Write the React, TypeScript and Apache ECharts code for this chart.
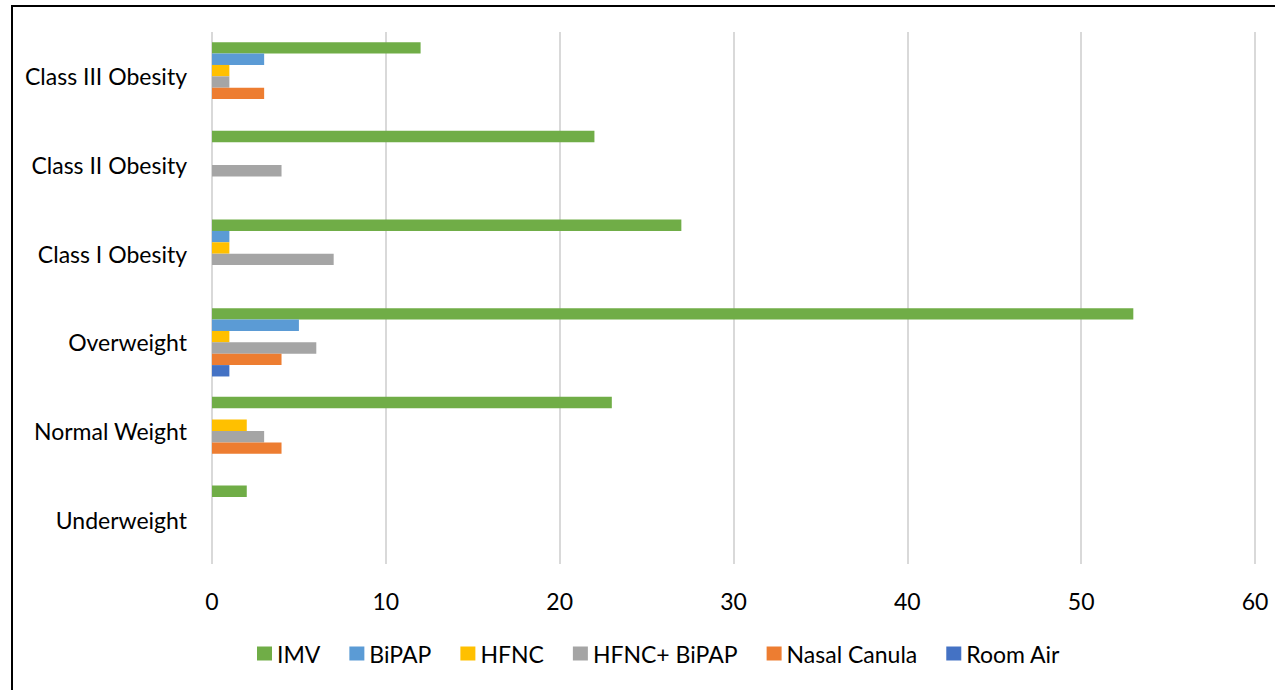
import React, { useEffect, useRef } from "react";
import * as echarts from "echarts";

// BMI categories, listed bottom to top
const categories = [
  "Underweight",
  "Normal Weight",
  "Overweight",
  "Class I Obesity",
  "Class II Obesity",
  "Class III Obesity",
];

const seriesNames = ["IMV", "BiPAP", "HFNC", "HFNC+ BiPAP", "Nasal Canula", "Room Air"];
const seriesColors = ["#70AD47", "#5B9BD5", "#FFC000", "#A5A5A5", "#ED7D31", "#4472C4"];

const imv = [2, 23, 53, 27, 22, 12];
const bipap = [0, 0, 5, 1, 0, 3];
const hfnc = [0, 2, 1, 1, 0, 1];
const hfncBipap = [0, 3, 6, 7, 4, 1];
const nasalCanula = [0, 4, 4, 0, 0, 3];
const roomAir = [0, 0, 1, 0, 0, 0];

const seriesValues = [imv, bipap, hfnc, hfncBipap, nasalCanula, roomAir];

const xTicks = [0, 10, 20, 30, 40, 50, 60];

const FONT = "Lato, 'Liberation Sans', sans-serif";

export default function App() {
  const ref = useRef<HTMLDivElement>(null);

  useEffect(() => {
    if (!ref.current) return;
    const chart = echarts.init(ref.current, null, { renderer: "svg" });
    chart.setOption({
      animation: false,
      backgroundColor: "#ffffff",
      textStyle: { fontFamily: FONT },
      grid: { left: 212, right: 20, top: 32, bottom: 126, containLabel: false },
      xAxis: {
        type: "value",
        min: xTicks[0],
        max: xTicks[xTicks.length - 1],
        interval: 10,
        axisLine: { show: false },
        axisTick: { show: false },
        axisLabel: { color: "#000", fontSize: 23, fontFamily: FONT, margin: 25 },
        splitLine: { show: true, lineStyle: { color: "#D9D9D9", width: 2 } },
      },
      yAxis: {
        type: "category",
        data: categories,
        axisLine: { show: false },
        axisTick: { show: false },
        axisLabel: { color: "#000", fontSize: 23, fontFamily: FONT, margin: 25 },
        splitLine: { show: false },
      },
      legend: {
        data: seriesNames,
        top: 637,
        left: 252,
        icon: "rect",
        itemWidth: 15,
        itemHeight: 14,
        itemGap: 29,
        textStyle: { color: "#000", fontSize: 23, fontFamily: FONT },
      },
      series: seriesNames.map((name, i) => ({
        name,
        type: "bar",
        data: seriesValues[i],
        itemStyle: { color: seriesColors[i] },
        barGap: "0%",
        barCategoryGap: "23%",
      })),
      graphic: [
        {
          type: "rect",
          shape: { x: 12, y: 6, width: 1300, height: 720 },
          style: { fill: "none", stroke: "#000", lineWidth: 2 },
          silent: true,
        },
      ],
    });
    return () => chart.dispose();
  }, []);

  return (
    <div
      ref={ref}
      style={{ position: "fixed", left: 0, top: 0, width: 1275, height: 690 }}
    />
  );
}
